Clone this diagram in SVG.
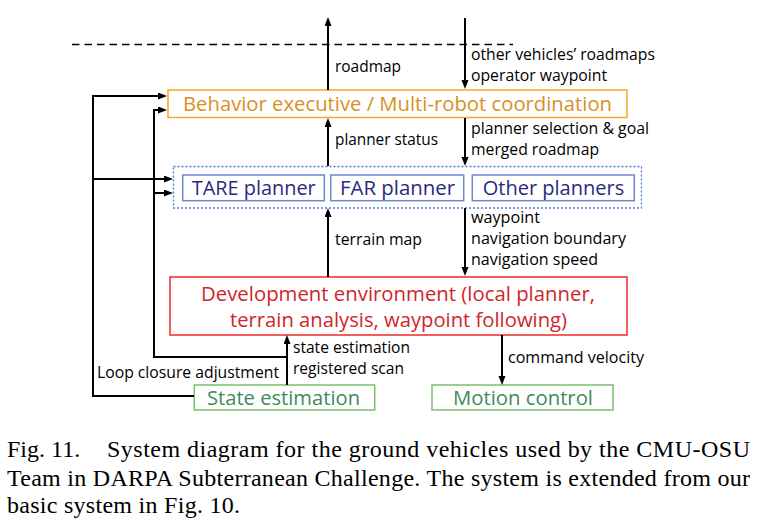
<svg xmlns="http://www.w3.org/2000/svg" width="783" height="528" viewBox="0 0 783 528">
<defs>
<marker id="ah" markerUnits="userSpaceOnUse" markerWidth="10" markerHeight="8" refX="6" refY="3.5" orient="auto">
<path d="M0,0 L9,3.5 L0,7 z" fill="#000"/>
</marker>
<style>
.lbl{font-family:"Open Sans","Liberation Sans",sans-serif;font-size:15.5px;fill:#000}
.bt{font-family:"Open Sans","Liberation Sans",sans-serif;font-size:20px}
.conn path{fill:none;stroke:#000;stroke-width:2}
.cap{font-family:"Liberation Serif","Times New Roman",serif;font-size:24px;fill:#000}
</style>
</defs>
<rect width="783" height="528" fill="#fff"/>
<line x1="72" y1="44.5" x2="513" y2="44.5" stroke="#000" stroke-width="1.5" stroke-dasharray="7.5,5"/>

<g id="behavior">
<rect x="168" y="90" width="459" height="27.5" fill="#fff" stroke="#f7a82a" stroke-width="1.5"/>
<text class="bt" x="183" y="111" fill="#d8901f" textLength="429" lengthAdjust="spacingAndGlyphs">Behavior executive / Multi-robot coordination</text>
</g>

<g id="planners">
<rect x="173.5" y="166.5" width="468" height="41.5" fill="none" stroke="#4a7ad8" stroke-width="1.3" stroke-dasharray="2,2"/>
<g id="tare">
<rect x="182.7" y="175" width="141.6" height="25.7" fill="#fff" stroke="#6c88d0" stroke-width="1.5"/>
<text class="bt" x="191.7" y="195" fill="#2a2a80" textLength="124" lengthAdjust="spacingAndGlyphs">TARE planner</text>
</g>
<g id="far">
<rect x="330.7" y="175" width="133" height="25.7" fill="#fff" stroke="#6c88d0" stroke-width="1.5"/>
<text class="bt" x="340" y="195" fill="#2a2a80" textLength="115" lengthAdjust="spacingAndGlyphs">FAR planner</text>
</g>
<g id="other">
<rect x="472.3" y="175" width="162" height="25.7" fill="#fff" stroke="#6c88d0" stroke-width="1.5"/>
<text class="bt" x="482.7" y="195" fill="#2a2a80" textLength="141.6" lengthAdjust="spacingAndGlyphs">Other planners</text>
</g>
</g>

<g id="devenv">
<rect x="170" y="277" width="457" height="58" fill="#fff" stroke="#ee2a2a" stroke-width="1.5"/>
<text class="bt" x="201" y="301" fill="#d0262b" textLength="394" lengthAdjust="spacingAndGlyphs">Development environment (local planner,</text>
<text class="bt" x="230" y="326.5" fill="#d0262b" textLength="337" lengthAdjust="spacingAndGlyphs">terrain analysis, waypoint following)</text>
</g>

<g id="stateest">
<rect x="194.3" y="385" width="180.4" height="25" fill="#fff" stroke="#78c06c" stroke-width="1.5"/>
<text class="bt" x="207" y="405" fill="#3f8a5c" textLength="153" lengthAdjust="spacingAndGlyphs">State estimation</text>
</g>

<g id="motion">
<rect x="432" y="385" width="181" height="25" fill="#fff" stroke="#78c06c" stroke-width="1.5"/>
<text class="bt" x="453" y="405" fill="#3f8a5c" textLength="140" lengthAdjust="spacingAndGlyphs">Motion control</text>
</g>

<g id="connectors" class="conn">
<path d="M328,90 V20" marker-end="url(#ah)"/>
<path d="M465,18 V86" marker-end="url(#ah)"/>
<path d="M328,166 V121" marker-end="url(#ah)"/>
<path d="M465,118 V163" marker-end="url(#ah)"/>
<path d="M328,277 V211" marker-end="url(#ah)"/>
<path d="M465,208 V273" marker-end="url(#ah)"/>
<path d="M287,385 V338" marker-end="url(#ah)"/>
<path d="M502,335 V382" marker-end="url(#ah)"/>
<path d="M194,396 H93 V96 H164" marker-end="url(#ah)"/>
<path d="M93,179 H170" marker-end="url(#ah)"/>
<path d="M287,357 H154 V110 H164" marker-end="url(#ah)"/>
<path d="M154,193 H170" marker-end="url(#ah)"/>
</g>

<g id="labels">
<text class="lbl" x="335" y="72" textLength="66" lengthAdjust="spacingAndGlyphs">roadmap</text>
<text class="lbl" x="471" y="60" textLength="184" lengthAdjust="spacingAndGlyphs">other vehicles’ roadmaps</text>
<text class="lbl" x="471" y="81" textLength="136" lengthAdjust="spacingAndGlyphs">operator waypoint</text>
<text class="lbl" x="335" y="145" textLength="103" lengthAdjust="spacingAndGlyphs">planner status</text>
<text class="lbl" x="471" y="134" textLength="178" lengthAdjust="spacingAndGlyphs">planner selection &amp; goal</text>
<text class="lbl" x="471" y="155" textLength="128" lengthAdjust="spacingAndGlyphs">merged roadmap</text>
<text class="lbl" x="335" y="245" textLength="87" lengthAdjust="spacingAndGlyphs">terrain map</text>
<text class="lbl" x="471" y="223" textLength="69" lengthAdjust="spacingAndGlyphs">waypoint</text>
<text class="lbl" x="471" y="244" textLength="155" lengthAdjust="spacingAndGlyphs">navigation boundary</text>
<text class="lbl" x="471" y="265" textLength="127" lengthAdjust="spacingAndGlyphs">navigation speed</text>
<text class="lbl" x="293" y="353" textLength="117" lengthAdjust="spacingAndGlyphs">state estimation</text>
<text class="lbl" x="293" y="374" textLength="111" lengthAdjust="spacingAndGlyphs">registered scan</text>
<text class="lbl" x="97" y="378" textLength="182" lengthAdjust="spacingAndGlyphs">Loop closure adjustment</text>
<text class="lbl" x="508" y="363" textLength="136" lengthAdjust="spacingAndGlyphs">command velocity</text>
</g>

<g id="caption">
<text class="cap" x="7" y="457">Fig. 11.</text>
<text class="cap" x="107" y="457" textLength="643" lengthAdjust="spacing">System diagram for the ground vehicles used by the CMU-OSU</text>
<text class="cap" x="7" y="486" textLength="743" lengthAdjust="spacing">Team in DARPA Subterranean Challenge. The system is extended from our</text>
<text class="cap" x="7" y="513" textLength="233" lengthAdjust="spacing">basic system in Fig. 10.</text>
</g>
</svg>
